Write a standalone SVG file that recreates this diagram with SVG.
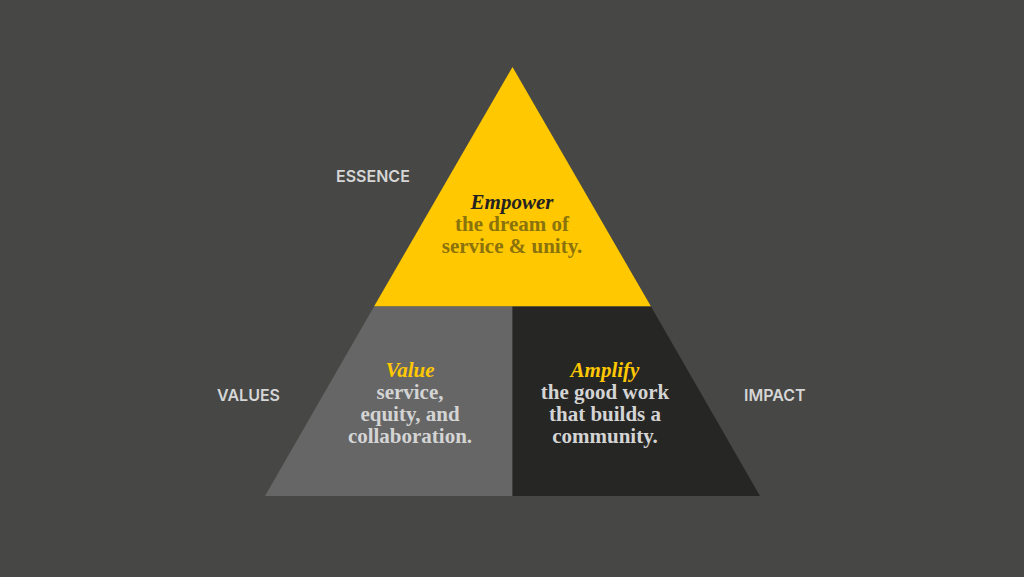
<svg xmlns="http://www.w3.org/2000/svg" width="1024" height="577" viewBox="0 0 1024 577">
<style>
.lbl{font-family:Inter,"Liberation Sans",sans-serif;font-weight:600;font-size:16px;fill:#d6d6d6}
.ser{font-family:"Liberation Serif","DejaVu Serif",serif;font-weight:bold;font-size:21px;text-anchor:middle}
.it{font-style:italic}
</style>
<rect width="1024" height="577" fill="#474745"/>
<g id="essence">
<polygon points="512.5,67 651,306.5 374,306.5" fill="#ffc800"/>
<text class="ser it" x="512" y="209" fill="#222222">Empower</text>
<text class="ser" x="512" y="231" fill="#8a720c">the dream of</text>
<text class="ser" x="512" y="253" fill="#8a720c">service &amp; unity.</text>
</g>
<g id="values">
<polygon points="374,306.5 512.5,306.5 512.5,496 265,496" fill="#666666"/>
<text class="ser it" x="410" y="377" fill="#ffc800">Value</text>
<text class="ser" x="410" y="399" fill="#d4d4d4">service,</text>
<text class="ser" x="410" y="421" fill="#d4d4d4">equity, and</text>
<text class="ser" x="410" y="443" fill="#d4d4d4">collaboration.</text>
</g>
<g id="impact">
<polygon points="512.5,306.5 651,306.5 760,496 512.5,496" fill="#262624"/>
<text class="ser it" x="605" y="377" fill="#ffc800">Amplify</text>
<text class="ser" x="605" y="399" fill="#d4d4d4">the good work</text>
<text class="ser" x="605" y="421" fill="#d4d4d4">that builds a</text>
<text class="ser" x="605" y="443" fill="#d4d4d4">community.</text>
</g>
<g id="labels">
<text class="lbl" x="336" y="182">ESSENCE</text>
<text class="lbl" x="217" y="401">VALUES</text>
<text class="lbl" x="744" y="401">IMPACT</text>
</g>
</svg>
